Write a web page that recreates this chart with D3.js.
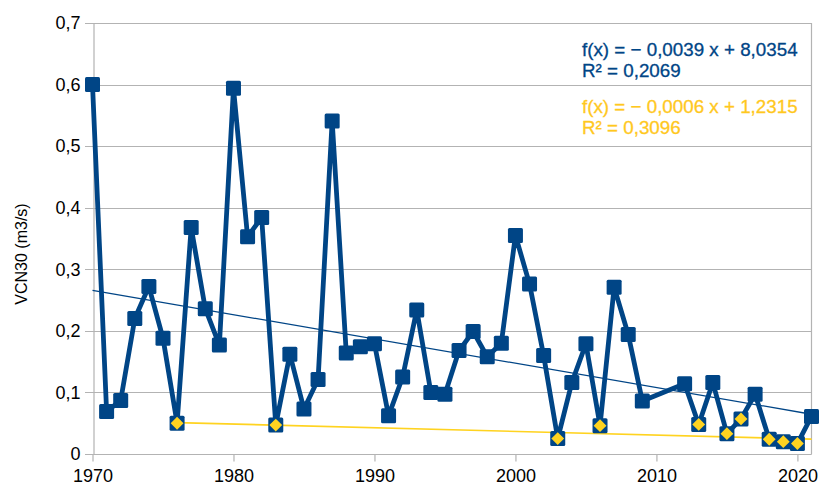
<!DOCTYPE html>
<meta charset="utf-8">
<html lang="fr">
<head>
	<title>VCN30</title>
	<script src="https://d3js.org/d3.v7.min.js"></script>
	<style>
		body { margin: 0; background: #fff; }
		text { font-family: "Liberation Sans", Arial, sans-serif; }
	</style>
</head>
<body>
	<script>
// yearly VCN30 values (m3/s), 2010 and 2011 missing
var years = [1970, 1971, 1972, 1973, 1974, 1975, 1976, 1977, 1978, 1979,
             1980, 1981, 1982, 1983, 1984, 1985, 1986, 1987, 1988, 1989,
             1990, 1991, 1992, 1993, 1994, 1995, 1996, 1997, 1998, 1999,
             2000, 2001, 2002, 2003, 2004, 2005, 2006, 2007, 2008, 2009,
             2012, 2013, 2014, 2015, 2016, 2017, 2018, 2019, 2020, 2021];
var vcn30 = [0.600, 0.069, 0.087, 0.220, 0.272, 0.188, 0.050, 0.368, 0.236, 0.177,
             0.594, 0.353, 0.384, 0.047, 0.162, 0.073, 0.121, 0.541, 0.164, 0.174,
             0.179, 0.062, 0.125, 0.234, 0.100, 0.097, 0.168, 0.199, 0.158, 0.180,
             0.355, 0.276, 0.160, 0.025, 0.116, 0.179, 0.046, 0.271, 0.194, 0.086,
             0.114, 0.048, 0.116, 0.033, 0.057, 0.097, 0.024, 0.020, 0.017, 0.061];

// lowest years (second series)
var lowYears = [1976, 1983, 2003, 2006, 2013, 2015, 2016, 2018, 2019, 2020];
var lowValues = [0.050, 0.047, 0.025, 0.046, 0.048, 0.033, 0.057, 0.024, 0.020, 0.017];

// linear trends: [slope, intercept]
var trendAll = [-0.003944, 8.0354];
var trendLow = [-0.0005974, 1.2315];

var xTicks = [1970, 1980, 1990, 2000, 2010, 2020];
var yTicks = [0, 0.1, 0.2, 0.3, 0.4, 0.5, 0.6, 0.7];
var eqAll = ["f(x) = \u2212 0,0039 x + 8,0354", "R\u00b2 = 0,2069"];
var eqLow = ["f(x) = \u2212 0,0006 x + 1,2315", "R\u00b2 = 0,3096"];

var width = 820, height = 487;
var blue = "#004586", yellow = "#ffd320";

var x = d3.scaleLinear().domain([1970, 2021]).range([92.5, 811.5]);
var y = d3.scaleLinear().domain([0, 0.7]).range([454, 23]);

var svg = d3.select("body").append("svg")
    .attr("width", width)
    .attr("height", height);

// grid
svg.append("g").selectAll("line")
    .data(yTicks).enter().append("line")
    .attr("x1", 85).attr("x2", x.range()[1])
    .attr("y1", function(d) { return Math.round(y(d)) + 0.5; })
    .attr("y2", function(d) { return Math.round(y(d)) + 0.5; })
    .style("stroke", "#b3b3b3").style("stroke-width", 1.2);

svg.append("line")
    .attr("x1", x.range()[1]).attr("x2", x.range()[1])
    .attr("y1", y(0.7)).attr("y2", y(0))
    .style("stroke", "#b3b3b3").style("stroke-width", 1.2);

// axes
var xAxis = svg.append("g")
    .attr("transform", "translate(0," + (Math.round(y(0)) + 0.5) + ")")
    .call(d3.axisBottom(x).tickValues(xTicks).tickFormat(d3.format("d")).tickSize(7).tickPadding(8));
xAxis.select(".domain").remove();
xAxis.append("line").attr("x1", x(1970)).attr("x2", x.range()[1]);
xAxis.selectAll("line").style("stroke", "#b3b3b3").style("stroke-width", 1.2);
xAxis.selectAll("text").style("font-size", "18px").style("fill", "#000")
    .style("font-family", "Liberation Sans");

var yAxis = svg.append("g")
    .attr("transform", "translate(" + (Math.round(x(1970)) + 0.5) + ",0)")
    .call(d3.axisLeft(y).tickValues(yTicks)
        .tickFormat(function(d) { return d3.format(".1f")(d).replace(".", ",").replace(/^0,0$/, "0"); })
        .tickSize(0).tickPadding(13));
yAxis.select(".domain").style("stroke", "#b3b3b3").style("stroke-width", 1.2);
yAxis.selectAll("text").style("font-size", "18px").style("fill", "#000")
    .style("font-family", "Liberation Sans");

svg.append("text")
    .attr("transform", "translate(27,254) rotate(-90)")
    .attr("text-anchor", "middle")
    .style("font-size", "16px")
    .text("VCN30 (m3/s)");

var allData = years.map(function(d, i) { return { year: d, v: vcn30[i] }; });
var lowData = lowYears.map(function(d, i) { return { year: d, v: lowValues[i] }; });

function trend(t, x0, x1, color, w) {
  svg.append("line")
    .attr("x1", x(x0)).attr("y1", y(t[0] * x0 + t[1]))
    .attr("x2", x(x1)).attr("y2", y(t[0] * x1 + t[1]))
    .style("stroke", color).style("stroke-width", w);
}
trend(trendAll, years[0], 2021, blue, 1.3);
trend(trendLow, lowYears[0], 2021, yellow, 1.6);

var line = d3.line()
    .x(function(d) { return x(d.year); })
    .y(function(d) { return y(d.v); });

svg.append("path")
    .datum(allData)
    .attr("d", line)
    .style("fill", "none")
    .style("stroke", blue)
    .style("stroke-width", 4.8)
    .style("stroke-linejoin", "round");

svg.append("g").selectAll("rect")
    .data(allData).enter().append("rect")
    .attr("x", function(d) { return x(d.year) - 7.5; })
    .attr("y", function(d) { return y(d.v) - 7.5; })
    .attr("width", 15).attr("height", 15)
    .attr("rx", 1.5)
    .style("fill", blue);

var diamond = d3.symbol().type(d3.symbolDiamond2).size(105);
svg.append("g").selectAll("path")
    .data(lowData).enter().append("path")
    .attr("transform", function(d) { return "translate(" + x(d.year) + "," + y(d.v) + ")"; })
    .attr("d", diamond)
    .style("fill", yellow);

// equations
function eq(lines, y0, color) {
  svg.append("g").selectAll("text")
    .data(lines).enter().append("text")
    .attr("x", 582)
    .attr("y", function(d, i) { return y0 + i * 21; })
    .style("font-size", "18.8px")
    .style("fill", color)
    .style("stroke", color)
    .style("stroke-width", 0.3)
    .text(function(d) { return d; });
}
eq(eqAll, 56, blue);
eq(eqLow, 113, "#ffc81e");
	</script>
</body>
</html>
